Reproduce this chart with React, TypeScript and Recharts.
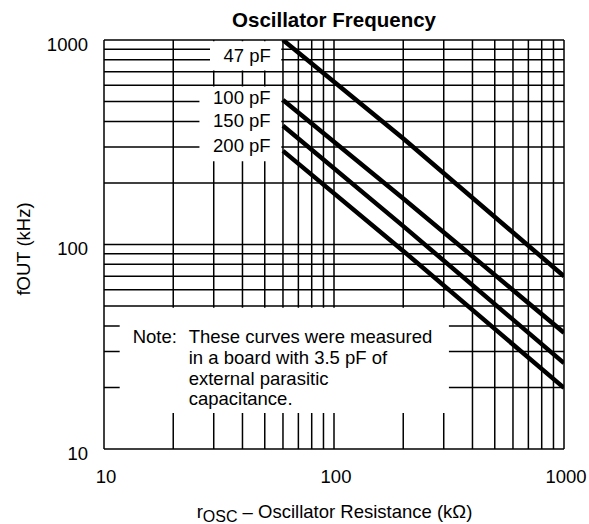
import { LineChart, Line, XAxis, YAxis, CartesianGrid, ReferenceArea } from 'recharts';

// Oscillator frequency vs. oscillator resistance, log-log, one curve per capacitor
const DECADES = [10, 100, 1000];
const GRID_TICKS = [10, 20, 30, 40, 50, 60, 70, 80, 90, 100, 200, 300, 400, 500, 600, 700, 800, 900, 1000];

const R_OSC = [60, 200, 1000];
const F_47PF = [1000, 330, 70];
const F_100PF = [509, 168, 37];
const F_150PF = [381, 123, 26.3];
const F_200PF = [287, 93, 19.9];

const CAP_LABELS = ['100 pF', '150 pF', '200 pF'];
const NOTE_LINES = ['These curves were measured', 'in a board with 3.5 pF of', 'external parasitic', 'capacitance.'];

const SERIES: Array<[string, number[]]> = [
  ['47 pF', F_47PF],
  ['100 pF', F_100PF],
  ['150 pF', F_150PF],
  ['200 pF', F_200PF],
];

const FONT = '"Liberation Sans", Arial, Helvetica, sans-serif';
const FS = 18.5;

function toPoints(values: number[]) {
  return R_OSC.map((r, i) => ({ r, f: values[i] }));
}

function XTick({ x, y, payload }: any) {
  if (!DECADES.includes(payload.value)) return <g />;
  return (
    <text x={x + 2} y={y + 34} textAnchor="middle" fontFamily={FONT} fontSize={FS} fill="#000">
      {payload.value}
    </text>
  );
}

function YTick({ x, y, payload }: any) {
  if (!DECADES.includes(payload.value)) return <g />;
  return (
    <text x={x} y={y + 4} textAnchor="end" dominantBaseline="central" fontFamily={FONT} fontSize={FS} fill="#000">
      {payload.value}
    </text>
  );
}

function TopLabel({ viewBox }: any) {
  return (
    <text x={viewBox.x + viewBox.width / 2 + 1.5} y={viewBox.y + 14} textAnchor="middle" dominantBaseline="central"
      fontFamily={FONT} fontSize={FS} fill="#000">
      47 pF
    </text>
  );
}

function CapLabels({ viewBox }: any) {
  const offsets = [11, 34, 59];
  return (
    <g>
      {CAP_LABELS.map((t, i) => (
        <text key={t} x={viewBox.x + viewBox.width / 2 + 1.5} y={viewBox.y + offsets[i]} textAnchor="middle"
          dominantBaseline="central" fontFamily={FONT} fontSize={FS} fill="#000">
          {t}
        </text>
      ))}
    </g>
  );
}

function NoteText({ viewBox }: any) {
  return (
    <g fontFamily={FONT} fontSize={FS} fill="#000">
      <text x={viewBox.x + 13} y={viewBox.y + 29} dominantBaseline="central">Note:</text>
      {NOTE_LINES.map((t, i) => (
        <text key={t} x={viewBox.x + 69} y={viewBox.y + 29 + i * 20.7} dominantBaseline="central">{t}</text>
      ))}
    </g>
  );
}

function XLabel({ viewBox }: any) {
  return (
    <text x={viewBox.x + viewBox.width / 2 + 0.5} y={viewBox.y + 69} textAnchor="middle" fontFamily={FONT} fontSize={FS} fill="#000">
      r<tspan dy={3.5} fontSize={16}>OSC</tspan>
      <tspan dy={-3.5}> – Oscillator Resistance (kΩ)</tspan>
    </text>
  );
}

function YLabel({ viewBox }: any) {
  const cy = viewBox.y + viewBox.height / 2 + 4.5;
  return (
    <text transform={`translate(29.5, ${cy}) rotate(-90)`} textAnchor="middle" fontFamily={FONT} fontSize={FS} fill="#000">
      fOUT (kHz)
    </text>
  );
}

export default function App() {
  return (
    <div style={{ position: 'absolute', left: 0, top: 0, width: 589, height: 524, background: '#fff' }}>
      <div
        style={{
          position: 'absolute',
          left: 104,
          width: 460,
          top: 9.5,
          textAlign: 'center',
          fontFamily: FONT,
          fontWeight: 'bold',
          fontSize: 20.5,
          lineHeight: '20.5px',
          color: '#000',
        }}
      >
        Oscillator Frequency
      </div>
      <LineChart width={589} height={524} margin={{ top: 40, right: 25, left: 0, bottom: 0 }}>
        <CartesianGrid stroke="#000" strokeWidth={1.5} />
        <XAxis
          dataKey="r"
          type="number"
          scale="log"
          domain={[10, 1000]}
          ticks={GRID_TICKS}
          interval={0}
          allowDataOverflow
          axisLine={false}
          tickLine={false}
          tickSize={0}
          tickMargin={0}
          height={75}
          tick={<XTick />}
          label={XLabel as any}
        />
        <YAxis
          type="number"
          scale="log"
          domain={[10, 1000]}
          ticks={GRID_TICKS}
          interval={0}
          allowDataOverflow
          axisLine={false}
          tickLine={false}
          tickSize={0}
          tickMargin={16}
          width={104}
          tick={<YTick />}
          label={YLabel as any}
        />
        <ReferenceArea x1={28.9} x2={59} y1={710} y2={985} fill="#fff" fillOpacity={1} stroke="none" label={TopLabel as any} />
        <ReferenceArea x1={26} x2={59} y1={255} y2={592} fill="#fff" fillOpacity={1} stroke="none" label={CapLabels as any} />
        <ReferenceArea x1={11.7} x2={316} y1={15} y2={49} fill="#fff" fillOpacity={1} stroke="none" label={NoteText as any} />
        {SERIES.map(([name, values]) => (
          <Line
            key={name}
            name={name}
            data={toPoints(values)}
            dataKey="f"
            type="linear"
            stroke="#000"
            strokeWidth={4.5}
            dot={false}
            activeDot={false}
            isAnimationActive={false}
          />
        ))}
      </LineChart>
    </div>
  );
}
